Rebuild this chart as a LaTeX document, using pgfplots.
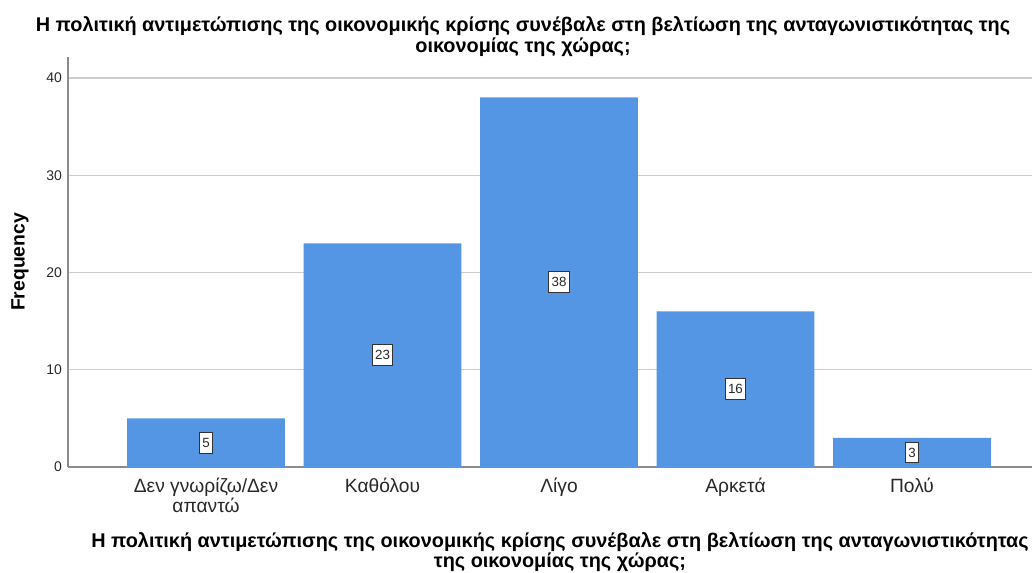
\documentclass[border=0pt]{standalone}
\usepackage{fontspec}
\setmainfont{Liberation Sans}
\usepackage{pgfplots}
\usepackage{pgfplotstable}
\pgfplotsset{compat=1.18}
\definecolor{spssblue}{RGB}{85,150,228}
\definecolor{gridgray}{RGB}{205,205,205}
\definecolor{axisgray}{RGB}{140,140,140}
\definecolor{txtgray}{RGB}{40,40,40}
\pgfplotstableread{
x y
1 5
2 23
3 38
4 16
5 3
}\freq
\begin{document}
\begin{tikzpicture}[x=0.75pt,y=0.75pt]
\useasboundingbox (0,0) rectangle (1032,572);
\begin{axis}[
  at={(51pt,78.75pt)}, anchor=south west,
  scale only axis, width=723pt, height=307.5pt,
  xmin=0.218, xmax=5.68, ymin=0, ymax=42.16,
  axis lines=left,
  axis line style={draw=axisgray, line width=0.8pt, -},
  ytick={0,10,20,30,40},
  xtick={1,2,3,4,5},
  xticklabels={{Δεν γνωρίζω/Δεν\\απαντώ},Καθόλου,Λίγο,Αρκετά,Πολύ},
  major tick length=0pt,
  ymajorgrids,
  grid style={gridgray, line width=0.8pt},
  /pgf/number format/assume math mode=true,
  yticklabel style={font=\fontsize{10.5}{12}\selectfont, text=txtgray, xshift=-1pt},
  xticklabel style={font=\fontsize{14.4}{12.2}\selectfont, text=txtgray, align=center, yshift=-5pt},
  clip=false,
]
\addplot[ybar, bar width=0.895, fill=spssblue, draw=none] table[x=x,y=y] {\freq};
\addplot[only marks, mark=none, y filter/.expression={y/2}, point meta=rawy,
  nodes near coords,
  nodes near coords style={anchor=center, draw=black!80, fill=white, line width=0.75pt,
    inner xsep=2.3pt, inner ysep=0pt, minimum height=15.5pt,
    font=\fontsize{10}{11}\selectfont, text=txtgray}] table[x=x,y=y] {\freq};
\end{axis}
\node[font=\bfseries\fontsize{14.9}{15.8}\selectfont, align=center, anchor=north, inner sep=0pt] at (523,556)
  {Η πολιτική αντιμετώπισης της οικονομικής κρίσης συνέβαλε στη βελτίωση της ανταγωνιστικότητας της\\οικονομίας της χώρας;};
\node[font=\bfseries\fontsize{14.9}{13.5}\selectfont, align=center, anchor=north, inner sep=0pt] at (560,40)
  {Η πολιτική αντιμετώπισης της οικονομικής κρίσης συνέβαλε στη βελτίωση της ανταγωνιστικότητας\\της οικονομίας της χώρας;};
\node[rotate=90, font=\bfseries\fontsize{14.5}{15}\selectfont, inner sep=0pt] at (20,310) {Frequency};
\end{tikzpicture}
\end{document}
